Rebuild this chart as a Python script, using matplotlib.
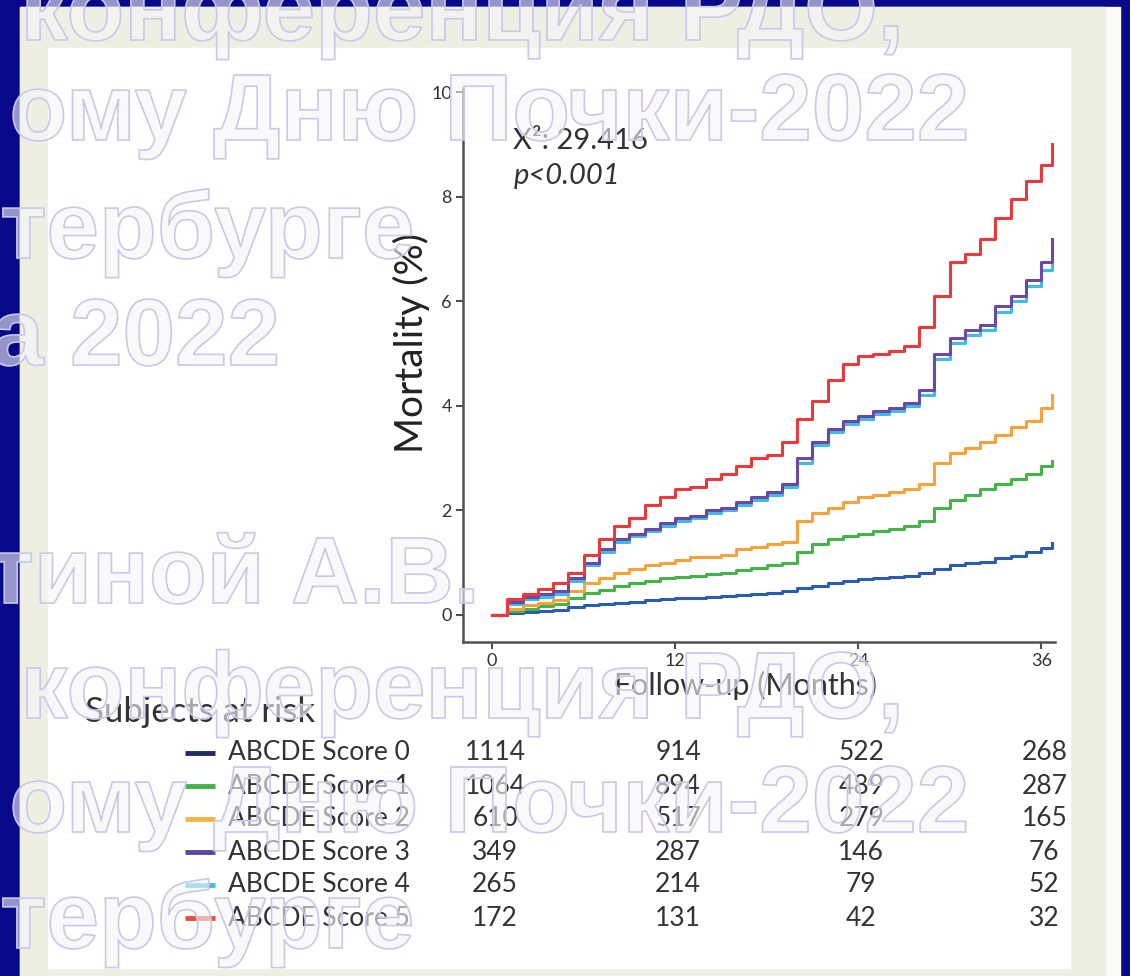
import numpy as np
import matplotlib.pyplot as plt
import matplotlib.patheffects as pe
from matplotlib.patches import Rectangle
from matplotlib.transforms import blended_transform_factory

plt.rcParams['font.family'] = ['Lato', 'DejaVu Sans']

# follow-up months at which the curves were read
months = [0, 1, 2, 3, 4, 5, 6, 7, 8, 9, 10, 11, 12, 13, 14, 15, 16, 17, 18,
          19, 20, 21, 22, 23, 24, 25, 26, 27, 28, 29, 30, 31, 32, 33, 34, 35, 36, 36.7]

# cumulative mortality (%) per ABCDE score
score0 = [0, 0.04, 0.06, 0.08, 0.1, 0.15, 0.18, 0.2, 0.23, 0.25, 0.28, 0.3, 0.32, 0.33, 0.35, 0.36,
          0.38, 0.4, 0.42, 0.45, 0.52, 0.56, 0.6, 0.65, 0.68, 0.7, 0.72, 0.75, 0.8, 0.88, 0.95,
          1.0, 1.02, 1.08, 1.12, 1.2, 1.28, 1.38]
score1 = [0, 0.08, 0.12, 0.16, 0.2, 0.32, 0.42, 0.48, 0.55, 0.6, 0.65, 0.7, 0.72, 0.75, 0.78, 0.8,
          0.85, 0.9, 0.95, 1.0, 1.2, 1.35, 1.45, 1.5, 1.55, 1.6, 1.65, 1.7, 1.8, 2.05, 2.2,
          2.3, 2.4, 2.5, 2.6, 2.7, 2.85, 2.95]
score2 = [0, 0.12, 0.18, 0.22, 0.28, 0.45, 0.6, 0.7, 0.8, 0.88, 0.95, 1.0, 1.05, 1.1, 1.1, 1.15,
          1.25, 1.3, 1.35, 1.4, 1.8, 1.95, 2.05, 2.15, 2.25, 2.3, 2.35, 2.4, 2.5, 2.9, 3.1,
          3.2, 3.3, 3.45, 3.6, 3.7, 3.95, 4.2]
score3 = [0, 0.25, 0.35, 0.4, 0.45, 0.7, 1.0, 1.25, 1.45, 1.55, 1.65, 1.75, 1.85, 1.9, 2.0, 2.05,
          2.15, 2.25, 2.35, 2.5, 3.0, 3.3, 3.55, 3.7, 3.8, 3.9, 3.95, 4.05, 4.3, 5.0, 5.3,
          5.45, 5.55, 5.9, 6.1, 6.4, 6.75, 7.2]
score4 = [0, 0.2, 0.3, 0.35, 0.4, 0.65, 0.95, 1.2, 1.4, 1.5, 1.6, 1.7, 1.8, 1.85, 1.95, 2.0,
          2.1, 2.2, 2.3, 2.45, 2.9, 3.25, 3.5, 3.65, 3.75, 3.85, 3.9, 4.0, 4.2, 4.9, 5.2,
          5.35, 5.45, 5.8, 6.0, 6.3, 6.6, 7.0]
score5 = [0, 0.3, 0.4, 0.5, 0.6, 0.8, 1.15, 1.45, 1.7, 1.85, 2.1, 2.25, 2.4, 2.45, 2.6, 2.7,
          2.85, 3.0, 3.05, 3.3, 3.75, 4.1, 4.5, 4.8, 4.95, 5.0, 5.05, 5.15, 5.5, 6.1, 6.75,
          6.9, 7.2, 7.6, 7.95, 8.3, 8.6, 9.0]

labels = ['ABCDE Score 0', 'ABCDE Score 1', 'ABCDE Score 2',
          'ABCDE Score 3', 'ABCDE Score 4', 'ABCDE Score 5']
line_colors = ['#2c5cb0', '#45b24a', '#f7a23a', '#6a48a6', '#3fbce4', '#e8393c']
legend_colors = ['#1f2d63', '#45b24a', '#f5b445', '#5b4a9c', '#4ab8e8', '#e8503a']

# subjects at risk at 0, 12, 24, 36 months
risk_months = [0, 12, 24, 36]
at_risk = [[1114, 914, 522, 268],
           [1064, 894, 489, 287],
           [610, 517, 279, 165],
           [349, 287, 146, 76],
           [265, 214, 79, 52],
           [172, 131, 42, 32]]

watermark = ['конференция РДО,', 'ому Дню Почки-2022', 'тербурге', 'а 2022',
             'тиной А.В.', 'конференция РДО,', 'ому Дню Почки-2022', 'тербурге']

W, H = 1130, 976
fig = plt.figure(figsize=(W / 100, H / 100), dpi=100)
fig.patch.set_facecolor('#08088a')

# background panels in pixel coordinates
bg = fig.add_axes([0, 0, 1, 1])
bg.set_xlim(0, W)
bg.set_ylim(H, 0)
bg.axis('off')
bg.add_patch(Rectangle((20, 7), 1100, 975, color='#fbfbf8'))
bg.add_patch(Rectangle((20, 7), 1085, 975, color='#eeeee3'))
bg.add_patch(Rectangle((48, 48), 1022, 920, color='white'))

# survival plot
ax = fig.add_axes([463 / W, 1 - 642 / H, (1055 - 463) / W, (642 - 88) / H])
ax.set_facecolor('none')
series = [score0, score1, score2, score4, score3, score5]
order = [0, 1, 2, 4, 3, 5]
for s, i in zip(series, order):
    ax.plot(months, s, drawstyle='steps-post', color=line_colors[i], lw=2.2)

ax.set_xlim(-1.9, 36.9)
ax.set_ylim(-0.52, 10.08)
ax.set_xticks([0, 12, 24, 36])
ax.set_yticks([0, 2, 4, 6, 8, 10])
for side in ['top', 'right']:
    ax.spines[side].set_visible(False)
for side in ['left', 'bottom']:
    ax.spines[side].set_color('#505050')
    ax.spines[side].set_linewidth(1.8)
ax.tick_params(direction='out', length=5, width=1.5, color='#505050',
               labelsize=13, labelcolor='#333333', pad=3)
ax.set_xlabel('Follow-up (Months)', fontsize=22, color='#333333')
ax.set_ylabel('Mortality (%)', fontsize=28, color='#222222')
ax.xaxis.set_label_coords(0.478, -0.052)
ax.yaxis.set_label_coords(-0.056, 0.54)

ax.text(0.085, 0.905, 'X²: 29.416', transform=ax.transAxes, fontsize=21,
        color='#333333', va='center')
ax.text(0.085, 0.842, 'p<0.001', transform=ax.transAxes, fontsize=21,
        color='#333333', va='center', style='italic')

# subjects at risk table
bg.text(85, 712, 'Subjects at risk', fontsize=25, color='#333333', va='center')
mix = blended_transform_factory(ax.transData, bg.transData)
for i, lab in enumerate(labels):
    y = 753 + 33 * i
    bg.plot([185, 215], [y, y], color=legend_colors[i], lw=3.5, solid_capstyle='butt')
    bg.text(228, y, lab, fontsize=19, color='#333333', va='center')
    for m, n in zip(risk_months, at_risk[i]):
        ax.text(m + 0.2, y, str(n), transform=mix, fontsize=19, color='#333333',
                va='center', ha='center', clip_on=False)

# watermark overlay
wm = fig.add_axes([0, 0, 1, 1])
wm.set_xlim(0, W)
wm.set_ylim(H, 0)
wm.axis('off')
wm_right = [905, 970, 415, 280, 480, 905, 970, 415]
wm_base = [40, 140, 258, 365, 603, 718, 832, 948]
for txt, xr, yb in zip(watermark, wm_right, wm_base):
    wm.text(xr, yb, txt, family='Liberation Sans', weight='bold', fontsize=68,
            ha='right', va='baseline', color='none',
            path_effects=[pe.PathPatchEffect(facecolor=(0.96, 0.96, 0.97, 0.6),
                                             edgecolor='#c8c8ea', linewidth=1.2)])

fig.savefig('out.png', dpi=100, facecolor=fig.get_facecolor())
